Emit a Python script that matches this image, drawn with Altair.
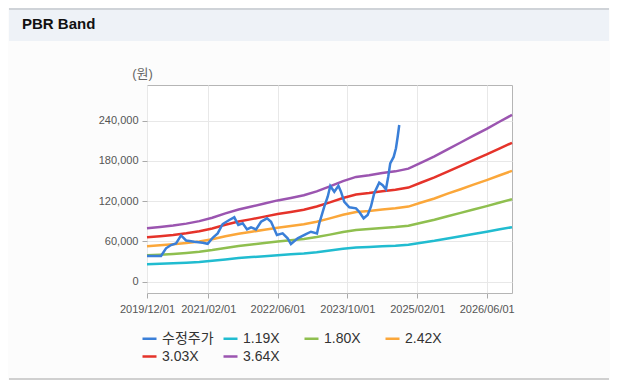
import altair as alt
import pandas as pd

# ---- data ----
series_names = ["수정주가", "1.19X", "1.80X", "2.42X", "3.03X", "3.64X"]
series_colors = ["#3a7fd8", "#21bcd0", "#8fbf4f", "#fba73a", "#e5332a", "#9b55b0"]

price_dates = ["2019/12/01", "2020/03/08", "2020/04/12", "2020/05/17", "2020/06/21", "2020/07/26",
               "2020/08/30", "2020/10/27", "2020/12/24", "2021/01/28", "2021/03/04", "2021/04/08",
               "2021/05/13", "2021/06/28", "2021/08/02", "2021/08/30", "2021/09/30", "2021/10/30",
               "2021/11/27", "2022/01/01", "2022/02/05", "2022/03/19", "2022/04/16", "2022/05/27",
               "2022/07/06", "2022/08/10", "2022/09/02", "2022/10/19", "2022/12/16", "2023/01/20",
               "2023/03/03", "2023/03/19", "2023/04/23", "2023/05/17", "2023/06/04", "2023/07/02",
               "2023/07/31", "2023/08/18", "2023/09/10", "2023/10/15", "2023/12/01", "2023/12/24",
               "2024/01/23", "2024/02/20", "2024/03/14", "2024/04/06", "2024/05/11", "2024/06/04",
               "2024/06/27", "2024/07/13", "2024/07/27", "2024/08/20", "2024/09/05", "2024/09/17",
               "2024/09/28"]
price_values = [38300, 38300, 49800, 54700, 57000, 69000, 61500, 59600, 58000, 56500, 65500, 72000,
                86000, 92000, 96000, 84500, 87000, 78000, 81000, 78000, 89400, 94500, 89400, 69600,
                72000, 64700, 56200, 64700, 71000, 74500, 72000, 87000, 112000, 126700, 142700, 134000,
                143000, 134000, 119000, 111000, 109400, 104000, 94500, 99400, 111800, 131800, 147600,
                144000, 137700, 156500, 176500, 186000, 198900, 216000, 233600]

band_dates = ["2019/12/01", "2020/03/01", "2020/06/01", "2020/09/01", "2020/12/01", "2021/03/01",
              "2021/06/01", "2021/09/01", "2021/12/01", "2022/03/01", "2022/06/01", "2022/09/01",
              "2022/12/01", "2023/03/01", "2023/06/01", "2023/09/01", "2023/12/01", "2024/03/01",
              "2024/06/01", "2024/09/01", "2024/12/01", "2025/03/01", "2025/06/01", "2025/09/01",
              "2025/12/01", "2026/03/01", "2026/06/01", "2026/09/01", "2026/11/25"]
band_119 = [26100, 26700, 27400, 28300, 29500, 31200, 33300, 35200, 36700, 38100, 39600, 40800, 42100,
            44000, 46400, 49000, 51100, 51900, 53000, 53800, 55100, 58100, 61000, 64500, 67800, 71200,
            74500, 78100, 81300]
band_180 = [39400, 40300, 41400, 42800, 44600, 47200, 50400, 53300, 55400, 57600, 59900, 61700, 63700,
            66600, 70200, 74200, 77200, 78500, 80100, 81400, 83300, 87800, 92300, 97600, 102600, 107600,
            112700, 118100, 122900]
band_242 = [53000, 54200, 55700, 57600, 60000, 63400, 67800, 71600, 74500, 77400, 80600, 83000, 85700,
            89500, 94400, 99700, 103800, 105500, 107700, 109400, 112000, 118100, 124100, 131200, 137900,
            144700, 151500, 158700, 165300]
band_303 = [66400, 67900, 69700, 72100, 75100, 79400, 84800, 89700, 93300, 97000, 100900, 103900, 107300,
            112100, 118200, 124800, 130000, 132100, 134800, 137000, 140300, 147900, 155400, 164200, 172700,
            181200, 189700, 198800, 207000]
band_364 = [79700, 81500, 83700, 86600, 90300, 95400, 101900, 107700, 112100, 116500, 121200, 124900,
            128900, 134700, 142000, 150000, 156200, 158700, 162000, 164500, 168500, 177600, 186700, 197300,
            207500, 217700, 227900, 238800, 248600]

x_tick_dates = [(2019, 12, 1), (2021, 2, 1), (2022, 6, 1), (2023, 10, 1), (2025, 2, 1), (2026, 6, 1)]
y_ticks = [0, 60000, 120000, 180000, 240000]

FONT = "Liberation Sans, Noto Sans CJK KR"

# ---- tables ----
price_df = pd.DataFrame({"date": price_dates, "value": price_values, "series": series_names[0]})
band_frames = []
for name, vals in zip(series_names[1:], [band_119, band_180, band_242, band_303, band_364]):
    band_frames.append(pd.DataFrame({"date": band_dates, "value": vals, "series": name}))
band_df = pd.concat(band_frames, ignore_index=True)

x_enc = alt.X(
    "date:T",
    scale=alt.Scale(domain=[alt.DateTime(year=2019, month=12, date=1),
                            alt.DateTime(year=2026, month=11, date=25)]),
    axis=alt.Axis(values=[alt.DateTime(year=y, month=m, date=d) for (y, m, d) in x_tick_dates],
                  format="%Y/%m/%d", title=None, labelPadding=5, tickSize=5,
                  labelFlush=False, labelOverlap=False),
)
y_enc = alt.Y(
    "value:Q",
    scale=alt.Scale(domain=[-16800, 293200], nice=False, zero=False),
    axis=alt.Axis(values=y_ticks, format=",d", title="(원)", titleAngle=0, titleX=-5, titleY=-12,
                  titleAlign="center", titleBaseline="middle", titleFontSize=13,
                  titleFontWeight="normal", titleColor="#666666", titleFont=FONT,
                  tickSize=5, labelPadding=4, labelFlush=False, labelOverlap=False),
)
color_enc = alt.Color(
    "series:N",
    scale=alt.Scale(domain=series_names, range=series_colors),
    legend=alt.Legend(orient="none", legendX=-6, legendY=245, columns=4, direction="horizontal",
                      title=None, symbolType="stroke", symbolStrokeWidth=2.5, symbolSize=196,
                      labelFontSize=14, labelColor="#333333", labelFont=FONT,
                      columnPadding=4, rowPadding=2, gridAlign="all", labelOffset=4),
)

bands = alt.Chart(band_df).mark_line(strokeWidth=2.5).encode(x=x_enc, y=y_enc, color=color_enc)
price = alt.Chart(price_df).mark_line(strokeWidth=2.5).encode(x=x_enc, y=y_enc, color=color_enc)

deco = pd.DataFrame({"k": [0]})
header = alt.Chart(deco).mark_rect(color="#eef2f7").encode(
    x=alt.value(-138), x2=alt.value(462), y=alt.value(-77), y2=alt.value(-44))
top_line = alt.Chart(deco).mark_rule(color="#cfd3d8", strokeWidth=2).encode(
    x=alt.value(-138), x2=alt.value(462), y=alt.value(-76))
bottom_line = alt.Chart(deco).mark_rule(color="#d0d0d0", strokeWidth=2).encode(
    x=alt.value(-138), x2=alt.value(462), y=alt.value(294))
title_text = alt.Chart(deco).mark_text(
    text="PBR Band", align="left", baseline="middle", fontSize=15, fontWeight="bold",
    font=FONT, color="#111111").encode(x=alt.value(-125), y=alt.value(-61))

chart = alt.layer(header, top_line, bottom_line, title_text, bands, price).properties(
    width=365, height=208, padding=0, background="#fcfcfc"
).configure_view(
    stroke="#b5b5b5", strokeWidth=1, fill="#ffffff"
).configure_axis(
    labelFont=FONT, labelFontSize=11, labelColor="#555555", tickColor="#aaaaaa",
    gridColor="#e8e8e8", domain=False, grid=True
)

chart.save("out.html", embed_options={"renderer": "svg", "actions": False})
